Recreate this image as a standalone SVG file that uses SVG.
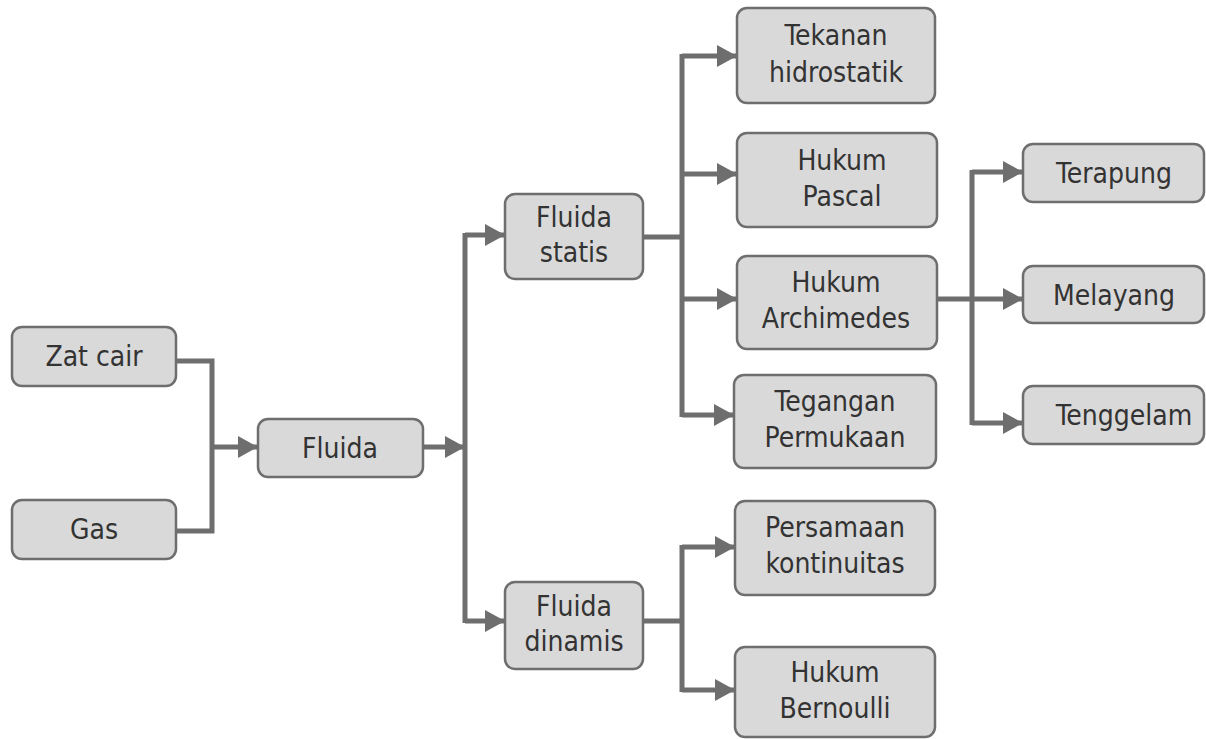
<svg xmlns="http://www.w3.org/2000/svg" width="1206" height="739" viewBox="0 0 1206 739">
<style>
.box{fill:#d9d9d9;stroke:#6e6e6e;stroke-width:2.5}
.t{font-family:"DejaVu Sans Condensed","DejaVu Sans",sans-serif;font-size:28px;fill:#333;text-anchor:middle}
.c{fill:none;stroke:#6e6e6e;stroke-width:5}
.a{fill:none;stroke:#6e6e6e;stroke-width:5;marker-end:url(#ah)}
</style>
<defs>
<marker id="ah" markerUnits="userSpaceOnUse" markerWidth="20" markerHeight="22" refX="20" refY="11" orient="auto" viewBox="0 0 20 22">
<path d="M0,0 L20,11 L0,22 z" fill="#6e6e6e"/>
</marker>
</defs>
<rect width="1206" height="739" fill="#fff"/>
<g id="connectors">
<path class="c" d="M176,361 H212 V531 H176"/>
<path class="a" d="M212,447 H258"/>
<path class="a" d="M423,447 H465"/>
<path class="c" d="M465,233 V623"/>
<path class="a" d="M465,235 H505"/>
<path class="a" d="M465,621 H505"/>
<path class="c" d="M643,237 H682"/>
<path class="c" d="M682,54 V417"/>
<path class="a" d="M682,56 H737"/>
<path class="a" d="M682,174 H737"/>
<path class="a" d="M682,299 H737"/>
<path class="a" d="M682,415 H734"/>
<path class="a" d="M937,299 H1023"/>
<path class="c" d="M972,170 V425"/>
<path class="a" d="M972,172 H1023"/>
<path class="a" d="M972,423 H1023"/>
<path class="c" d="M643,621 H682"/>
<path class="c" d="M682,545 V692"/>
<path class="a" d="M682,547 H735"/>
<path class="a" d="M682,690 H735"/>
</g>
<g id="zat-cair"><rect class="box" x="12" y="327" width="164" height="59" rx="10"/><text class="t" x="94" y="366">Zat cair</text></g>
<g id="gas"><rect class="box" x="12" y="500" width="164" height="59" rx="10"/><text class="t" x="94" y="539">Gas</text></g>
<g id="fluida"><rect class="box" x="258" y="419" width="165" height="58" rx="10"/><text class="t" x="340" y="458">Fluida</text></g>
<g id="fluida-statis"><rect class="box" x="505" y="194" width="138" height="85" rx="10"/><text class="t" x="574" y="227">Fluida</text><text class="t" x="574" y="262">statis</text></g>
<g id="fluida-dinamis"><rect class="box" x="505" y="582" width="138" height="87" rx="10"/><text class="t" x="574" y="616">Fluida</text><text class="t" x="574" y="651">dinamis</text></g>
<g id="tekanan"><rect class="box" x="737" y="8" width="198" height="95" rx="10"/><text class="t" x="836" y="45">Tekanan</text><text class="t" x="836" y="82">hidrostatik</text></g>
<g id="pascal"><rect class="box" x="737" y="133" width="200" height="94" rx="10"/><text class="t" x="842" y="170">Hukum</text><text class="t" x="842" y="206">Pascal</text></g>
<g id="archimedes"><rect class="box" x="737" y="256" width="200" height="93" rx="10"/><text class="t" x="836" y="292">Hukum</text><text class="t" x="836" y="328">Archimedes</text></g>
<g id="tegangan"><rect class="box" x="734" y="375" width="202" height="93" rx="10"/><text class="t" x="835" y="411">Tegangan</text><text class="t" x="835" y="447">Permukaan</text></g>
<g id="terapung"><rect class="box" x="1023" y="144" width="181" height="58" rx="10"/><text class="t" x="1114" y="183">Terapung</text></g>
<g id="melayang"><rect class="box" x="1023" y="266" width="181" height="57" rx="10"/><text class="t" x="1114" y="305">Melayang</text></g>
<g id="tenggelam"><rect class="box" x="1023" y="386" width="181" height="58" rx="10"/><text class="t" x="1124" y="425">Tenggelam</text></g>
<g id="persamaan"><rect class="box" x="735" y="501" width="200" height="94" rx="10"/><text class="t" x="835" y="537">Persamaan</text><text class="t" x="835" y="573">kontinuitas</text></g>
<g id="bernoulli"><rect class="box" x="735" y="647" width="200" height="90" rx="10"/><text class="t" x="835" y="682">Hukum</text><text class="t" x="835" y="718">Bernoulli</text></g>
</svg>
